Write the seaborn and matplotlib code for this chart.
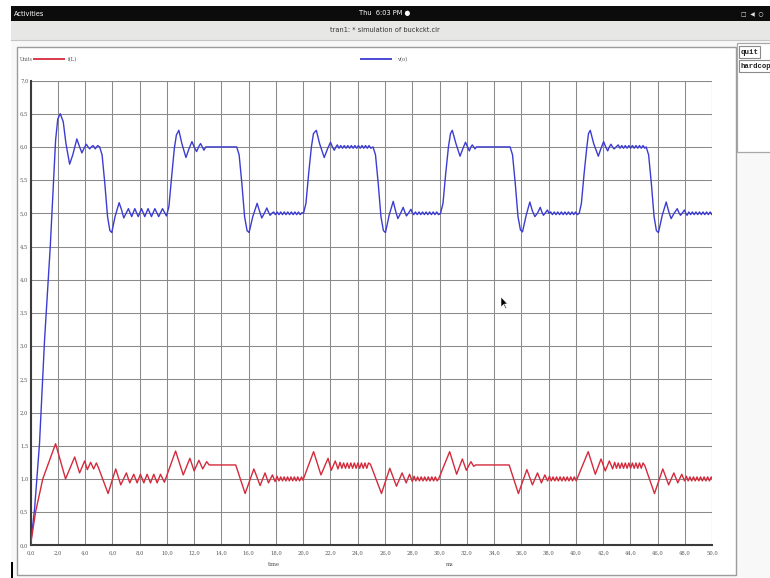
import matplotlib
matplotlib.use("Agg")
import matplotlib.pyplot as plt
import seaborn as sns
import pandas as pd
from matplotlib.patches import Rectangle, Polygon

# ---------------- data ----------------
t_il = [0.0, 0.37, 0.9, 1.84, 2.57, 3.24, 3.6, 3.97, 4.17, 4.41, 4.63, 4.83, 5.0,
        5.69, 6.25, 6.62, 7.03, 7.28, 7.57, 7.82, 8.06, 8.31, 8.55, 8.8, 9.04, 9.29, 9.53, 9.82,
        10.64, 11.2, 11.69, 12.0, 12.35, 12.63, 12.92, 13.1, 14.0, 15.05,
        15.74, 16.38, 16.84, 17.2, 17.45, 17.74, 17.94,
        18.08, 18.22, 18.35, 18.48, 18.6, 18.73, 18.85, 18.98, 19.1, 19.23, 19.35, 19.48,
        19.6, 19.73, 19.88, 19.98,
        20.76, 21.3, 21.82, 22.06, 22.35, 22.55,
        22.7, 22.83, 22.96, 23.1, 23.23, 23.36, 23.49, 23.62, 23.75, 23.88, 24.01, 24.14,
        24.27, 24.4, 24.53, 24.66, 24.79, 24.93,
        25.74, 26.35, 26.84, 27.25, 27.55, 27.8, 28.0,
        28.13, 28.26, 28.39, 28.52, 28.65, 28.78, 28.91, 29.04, 29.17, 29.3, 29.43, 29.56,
        29.69, 29.82, 29.95,
        30.74, 31.25, 31.67, 31.96, 32.3, 32.5, 32.65, 34.0, 35.1,
        35.78, 36.4, 36.81, 37.18, 37.47, 37.72, 37.92,
        38.06, 38.19, 38.32, 38.45, 38.58, 38.71, 38.84, 38.97, 39.1, 39.23, 39.36, 39.49,
        39.62, 39.75, 39.88, 40.02,
        40.9, 41.42, 41.84, 42.15, 42.45, 42.69,
        42.84, 42.97, 43.1, 43.23, 43.36, 43.49, 43.62, 43.75, 43.88, 44.01, 44.14, 44.27,
        44.4, 44.53, 44.66, 44.79, 44.92, 45.05,
        45.76, 46.37, 46.8, 47.18, 47.47, 47.76, 47.96,
        48.1, 48.23, 48.36, 48.49, 48.62, 48.75, 48.88, 49.01, 49.14, 49.27, 49.4, 49.53,
        49.66, 49.79, 49.92, 50.0]
i_l = [0.0, 0.5, 1.0, 1.53, 1.0, 1.33, 1.09, 1.27, 1.14, 1.25, 1.15, 1.24, 1.16,
       0.78, 1.15, 0.91, 1.09, 0.94, 1.07, 0.94, 1.07, 0.94, 1.07, 0.94, 1.07, 0.94, 1.07, 0.95,
       1.42, 1.06, 1.31, 1.12, 1.28, 1.15, 1.26, 1.21, 1.21, 1.21,
       0.78, 1.15, 0.9, 1.09, 0.94, 1.06, 0.96,
       1.04, 0.97, 1.03, 0.97, 1.03, 0.97, 1.03, 0.97, 1.03, 0.97, 1.03, 0.97,
       1.03, 0.97, 1.03, 0.98,
       1.41, 1.06, 1.31, 1.13, 1.27, 1.15,
       1.25, 1.16, 1.24, 1.16, 1.24, 1.16, 1.24, 1.16, 1.24, 1.16, 1.24, 1.16,
       1.24, 1.16, 1.24, 1.16, 1.24, 1.22,
       0.78, 1.16, 0.89, 1.09, 0.94, 1.07, 0.96,
       1.04, 0.97, 1.03, 0.97, 1.03, 0.97, 1.03, 0.97, 1.03, 0.97, 1.03, 0.97,
       1.03, 0.97, 1.01,
       1.41, 1.07, 1.3, 1.13, 1.26, 1.19, 1.21, 1.21, 1.21,
       0.78, 1.14, 0.91, 1.09, 0.94, 1.06, 0.97,
       1.04, 0.97, 1.03, 0.97, 1.03, 0.97, 1.03, 0.97, 1.03, 0.97, 1.03, 0.97,
       1.03, 0.97, 1.03, 0.97,
       1.41, 1.07, 1.3, 1.12, 1.27, 1.15,
       1.25, 1.16, 1.24, 1.16, 1.24, 1.16, 1.24, 1.16, 1.24, 1.16, 1.24, 1.16,
       1.24, 1.16, 1.24, 1.16, 1.24, 1.2,
       0.78, 1.15, 0.91, 1.09, 0.94, 1.07, 0.97,
       1.04, 0.97, 1.03, 0.97, 1.03, 0.97, 1.03, 0.97, 1.03, 0.97, 1.03, 0.97,
       1.03, 0.97, 1.03, 1.0]

t_vo = [0.0, 0.3, 0.66, 1.03, 1.45, 1.84, 2.0, 2.18, 2.4, 2.6, 2.87, 3.1, 3.4, 3.6, 3.77,
        3.93, 4.09, 4.22, 4.34, 4.46, 4.58, 4.67, 4.75, 4.84, 4.93, 5.07,
        5.25, 5.45, 5.65, 5.82, 5.96, 6.2, 6.5, 6.68, 6.84,
        7.18, 7.42, 7.65, 7.9, 8.14, 8.38, 8.62, 8.87, 9.12, 9.4, 9.68, 9.97,
        10.15, 10.35, 10.55, 10.7, 10.88, 11.1, 11.4, 11.62, 11.84, 12.0, 12.18, 12.33,
        12.47, 12.6, 12.72, 12.85, 12.97, 14.0, 15.12,
        15.3, 15.5, 15.7, 15.88, 16.03, 16.3, 16.62, 16.8, 16.96, 17.15, 17.33, 17.45,
        17.57, 17.7,
        17.83, 17.96, 18.09, 18.22, 18.35, 18.48, 18.61, 18.74, 18.87, 19.0, 19.13, 19.26,
        19.39, 19.52, 19.65, 19.78, 19.91, 20.02,
        20.2, 20.4, 20.6, 20.75, 20.96, 21.2, 21.54, 21.78, 22.0, 22.14, 22.28, 22.4,
        22.5, 22.62,
        22.75, 22.88, 23.01, 23.14, 23.27, 23.4, 23.53, 23.66, 23.79, 23.92, 24.05, 24.18,
        24.31, 24.44, 24.57, 24.7, 24.83, 24.96, 25.12,
        25.3, 25.5, 25.7, 25.88, 26.03, 26.3, 26.6, 26.78, 26.94, 27.14, 27.33, 27.45,
        27.57, 27.74, 27.9, 28.0, 28.1,
        28.23, 28.36, 28.49, 28.62, 28.75, 28.88, 29.01, 29.14, 29.27, 29.4, 29.53, 29.66,
        29.79, 29.92, 30.07,
        30.25, 30.45, 30.65, 30.8, 30.93, 31.2, 31.5, 31.7, 31.9, 32.05, 32.18, 32.3,
        32.4, 32.5, 32.6, 32.7, 34.0, 35.17,
        35.35, 35.55, 35.75, 35.93, 36.08, 36.35, 36.62, 36.8, 36.99, 37.2, 37.38, 37.5,
        37.62, 37.77, 37.91, 38.02,
        38.15, 38.28, 38.41, 38.54, 38.67, 38.8, 38.93, 39.06, 39.19, 39.32, 39.45, 39.58,
        39.71, 39.84, 39.97, 40.1, 40.24,
        40.4, 40.6, 40.8, 40.92, 41.05, 41.3, 41.64, 41.84, 42.03, 42.18, 42.33, 42.45,
        42.57, 42.68, 42.8, 42.95, 43.1,
        43.23, 43.36, 43.49, 43.62, 43.75, 43.88, 44.01, 44.14, 44.27, 44.4, 44.53, 44.66,
        44.79, 44.92, 45.05, 45.15,
        45.33, 45.53, 45.73, 45.9, 46.05, 46.33, 46.62, 46.8, 46.98, 47.2, 47.43, 47.55,
        47.67, 47.82, 47.96, 48.05, 48.15,
        48.28, 48.41, 48.54, 48.67, 48.8, 48.93, 49.06, 49.19, 49.32, 49.45, 49.58, 49.71,
        49.84, 49.97, 50.0]
v_o = [0.0, 0.55, 1.53, 3.09, 4.5, 6.1, 6.42, 6.5, 6.38, 6.05, 5.74, 5.88, 6.12, 6.0, 5.91,
       5.98, 6.04, 6.0, 5.97, 6.0, 6.02, 6.0, 5.97, 6.0, 6.02, 6.0,
       5.88, 5.45, 4.95, 4.74, 4.71, 4.95, 5.16, 5.05, 4.93,
       5.07, 4.95, 5.07, 4.95, 5.07, 4.95, 5.07, 4.95, 5.07, 4.95, 5.07, 4.96,
       5.1, 5.55, 5.98, 6.18, 6.25, 6.05, 5.84, 5.97, 6.08, 6.0, 5.93, 6.0,
       6.05, 6.0, 5.95, 6.0, 6.0, 6.0, 6.0,
       5.88, 5.45, 4.95, 4.74, 4.71, 4.95, 5.15, 5.03, 4.93, 5.0, 5.08, 5.02,
       4.97, 5.0,
       5.02, 4.98, 5.02, 4.98, 5.02, 4.98, 5.02, 4.98, 5.02, 4.98, 5.02, 4.98,
       5.02, 4.98, 5.02, 4.98, 5.01, 5.0,
       5.15, 5.6, 6.0, 6.2, 6.25, 6.05, 5.84, 5.97, 6.07, 6.0, 5.95, 6.0,
       6.03, 5.98,
       6.02, 5.98, 6.02, 5.98, 6.02, 5.98, 6.02, 5.98, 6.02, 5.98, 6.02, 5.98,
       6.02, 5.98, 6.02, 5.98, 6.02, 5.98, 6.0,
       5.88, 5.45, 4.95, 4.74, 4.71, 4.97, 5.18, 5.03, 4.92, 5.0, 5.09, 5.02,
       4.96, 5.01, 5.06, 5.01, 4.98,
       5.02, 4.98, 5.02, 4.98, 5.02, 4.98, 5.02, 4.98, 5.02, 4.98, 5.02, 4.98,
       5.02, 4.98, 5.0,
       5.15, 5.6, 6.0, 6.2, 6.25, 6.05, 5.86, 5.97, 6.07, 6.0, 5.94, 6.0,
       6.03, 6.0, 5.97, 6.0, 6.0, 6.0,
       5.88, 5.45, 4.95, 4.75, 4.72, 4.97, 5.17, 5.04, 4.95, 5.01, 5.09, 5.02,
       4.97, 5.01, 5.05, 5.0,
       5.02, 4.98, 5.02, 4.98, 5.02, 4.98, 5.02, 4.98, 5.02, 4.98, 5.02, 4.98,
       5.02, 4.98, 5.02, 4.98, 5.0,
       5.15, 5.6, 6.0, 6.2, 6.25, 6.05, 5.86, 5.98, 6.08, 6.0, 5.94, 6.0,
       6.04, 6.0, 5.97, 6.0, 6.03,
       5.98, 6.02, 5.98, 6.02, 5.98, 6.02, 5.98, 6.02, 5.98, 6.02, 5.98, 6.02,
       5.98, 6.02, 5.98, 6.0,
       5.88, 5.45, 4.95, 4.74, 4.71, 4.97, 5.17, 5.03, 4.92, 5.0, 5.07, 5.01,
       4.97, 5.01, 5.05, 5.0, 4.97,
       5.02, 4.98, 5.02, 4.98, 5.02, 4.98, 5.02, 4.98, 5.02, 4.98, 5.02, 4.98,
       5.02, 4.98, 5.0]

x_ticks = [0, 2, 4, 6, 8, 10, 12, 14, 16, 18, 20, 22, 24, 26, 28, 30, 32, 34, 36, 38,
           40, 42, 44, 46, 48, 50]
x_tick_labels = ["0,0", "2,0", "4,0", "6,0", "8,0", "10,0", "12,0", "14,0", "16,0",
                 "18,0", "20,0", "22,0", "24,0", "26,0", "28,0", "30,0", "32,0", "34,0",
                 "36,0", "38,0", "40,0", "42,0", "44,0", "46,0", "48,0", "50,0"]
y_ticks = [0, 0.5, 1.0, 1.5, 2.0, 2.5, 3.0, 3.5, 4.0, 4.5, 5.0, 5.5, 6.0, 6.5, 7.0]
y_tick_labels = ["0,0", "0,5", "1,0", "1,5", "2,0", "2,5", "3,0", "3,5", "4,0", "4,5",
                 "5,0", "5,5", "6,0", "6,5", "7,0"]
series_names = ["i(L)", "v(o)"]

RED = "#d42a3c"
BLUE = "#3c3cd2"

# ---------------- figure / screenshot chrome ----------------
W, H = 770, 578
fig = plt.figure(figsize=(7.7, 5.78), dpi=100)
fig.patch.set_facecolor("white")
bg = fig.add_axes([0, 0, 1, 1])
bg.set_xlim(0, W)
bg.set_ylim(H, 0)
bg.axis("off")

# top black bar
bg.add_patch(Rectangle((11, 6), W - 11, 15, facecolor="#0c0c0c", edgecolor="none"))
bg.text(14, 13.5, "Activities", color="white", fontsize=4.8, va="center", ha="left",
        family="DejaVu Sans")
bg.text(385, 13.5, "Thu  6:03 PM \u25CF", color="white", fontsize=4.8, va="center",
        ha="center", family="DejaVu Sans")
bg.text(752, 13.5, "\u25A1  \u25C0  \u25CB", color="#dddddd", fontsize=4.2, va="center",
        ha="center", family="DejaVu Sans")
# title bar
bg.add_patch(Rectangle((11, 21), W - 11, 19, facecolor="#e7e7e6", edgecolor="none"))
bg.plot([11, W], [39.5, 39.5], color="#c4c4c4", lw=0.8)
bg.text(385, 30.5, "tran1: * simulation of buckckt.cir", color="#333333", fontsize=4.8,
        va="center", ha="center", family="DejaVu Sans")
# window background
bg.add_patch(Rectangle((11, 40), W - 11, H - 40, facecolor="#f8f8f8", edgecolor="none"))
# plot frame
bg.add_patch(Rectangle((17, 47), 719, 528, facecolor="white", edgecolor="#9c9c9c", lw=1.0))
# right button panel
bg.add_patch(Rectangle((737, 43), 40, 109, facecolor="white", edgecolor="#a8a8a8", lw=0.9))
bg.add_patch(Rectangle((739, 46), 20.5, 11.5, facecolor="white", edgecolor="#8a8a8a", lw=0.8))
bg.text(740.3, 52, "quit", fontsize=5.4, family="Liberation Mono", weight="bold",
        color="#222222", va="center", ha="left")
bg.add_patch(Rectangle((739, 60), 40, 11.5, facecolor="white", edgecolor="#8a8a8a", lw=0.8))
bg.text(740.3, 66, "hardcop", fontsize=5.2, family="Liberation Mono", weight="bold",
        color="#222222", va="center", ha="left")

# legend line samples (ngspice style)
bg.text(20.0, 59.5, "Units", fontsize=3.3, color="#555555", va="center", ha="left",
        family="DejaVu Serif", zorder=5)
bg.plot([32.5, 65], [59, 59], color=RED, lw=1.3, solid_capstyle="butt")
bg.text(68, 59.5, series_names[0], fontsize=3.8, color="#555555", va="center", ha="left",
        family="DejaVu Serif")
bg.plot([360, 392], [59, 59], color=BLUE, lw=1.3, solid_capstyle="butt")
bg.text(397, 59.5, series_names[1], fontsize=3.8, color="#555555", va="center", ha="left",
        family="DejaVu Serif")

# axis labels
bg.text(274, 564.5, "time", fontsize=3.8, color="#444444", va="center", ha="center",
        family="DejaVu Serif")
bg.text(450, 564.5, "ms", fontsize=3.8, color="#444444", va="center", ha="center",
        family="DejaVu Serif")
# text cursor at bottom left
bg.add_patch(Rectangle((10.5, 562), 2, 16, facecolor="black", edgecolor="none"))

# ---------------- main plot ----------------
left, right, top, bottom = 30.5, 712.3, 80.5, 545.3
ax = fig.add_axes([left / W, 1 - bottom / H, (right - left) / W, (bottom - top) / H])
ax.set_facecolor("white")

df_il = pd.DataFrame({"t": t_il, "v": i_l})
df_vo = pd.DataFrame({"t": t_vo, "v": v_o})
sns.lineplot(data=df_vo, x="t", y="v", ax=ax, color=BLUE, lw=1.0, sort=False,
             estimator=None, zorder=3)
sns.lineplot(data=df_il, x="t", y="v", ax=ax, color=RED, lw=1.0, sort=False,
             estimator=None, zorder=4)

ax.set_xlim(0, 50)
ax.set_ylim(0, 7)
ax.set_xticks(x_ticks)
ax.set_xticklabels(x_tick_labels)
ax.set_yticks(y_ticks)
ax.set_yticklabels(y_tick_labels)
ax.set_xlabel("")
ax.set_ylabel("")
ax.tick_params(length=0, labelsize=3.8, colors="#555555")
ax.tick_params(axis="x", pad=4)
ax.tick_params(axis="y", pad=1.5)
for lab in ax.get_xticklabels() + ax.get_yticklabels():
    lab.set_family("DejaVu Serif")
ax.grid(True, color="#8a8a8a", lw=0.75)
ax.set_axisbelow(True)
for s in ["top", "right"]:
    ax.spines[s].set_visible(False)
for s in ["left", "bottom"]:
    ax.spines[s].set_color("#3a3a3a")
    ax.spines[s].set_linewidth(1.5)
ax.axhline(7, color="#8a8a8a", lw=0.75, zorder=1)
ax.axvline(50, color="#8a8a8a", lw=0.75, zorder=1)

# mouse pointer overlay
ov = fig.add_axes([0, 0, 1, 1], facecolor="none")
ov.set_xlim(0, W)
ov.set_ylim(H, 0)
ov.axis("off")
ov.add_patch(Polygon([(501, 297), (501, 307), (503.5, 304.5), (505.5, 308.5),
                      (506.5, 308), (504.5, 304), (507.5, 304)], closed=True,
                     facecolor="black", edgecolor="white", lw=0.4))

fig.savefig("out.png", dpi=100)
